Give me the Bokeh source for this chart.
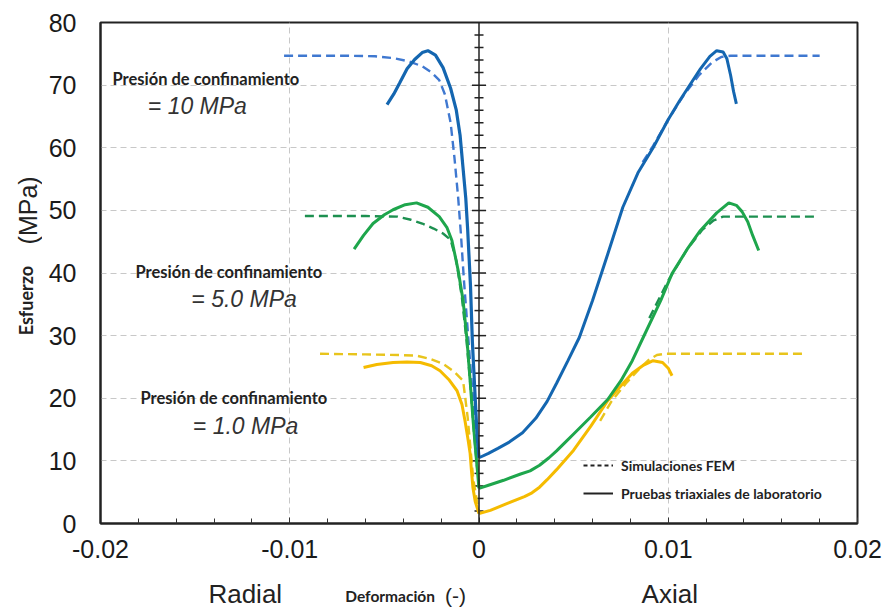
import math
from bokeh.plotting import figure
from bokeh.layouts import row, column
from bokeh.models import (Label, Span, FixedTicker, Legend, LegendItem, Range1d)
from bokeh.embed import file_html
from bokeh.resources import INLINE

# ---------------- data (strain, stress in MPa) ----------------
# 10 MPa confinement
blue_rad_lab_x = [-0.00486, -0.0045, -0.0042, -0.0038, -0.0034, -0.0030, -0.0027, -0.0023, -0.0019, -0.0015,
                  -0.0012, -0.0010, -0.00085, -0.0007, -0.0006, -0.00045, -0.00035, -0.0002, -0.0001, 0.0]
blue_rad_lab_y = [66.9, 68.6, 70.3, 72.6, 74.1, 75.2, 75.5, 74.8, 72.8, 69.5,
                  66.0, 62.0, 57.0, 52.0, 47.0, 38.0, 29.0, 20.0, 14.0, 10.5]
blue_rad_fem_x = [-0.0103, -0.0070, -0.0055, -0.0045, -0.0037, -0.0030, -0.0025, -0.0021, -0.0018, -0.0015,
                  -0.0013, -0.0011, -0.00095, -0.0008, -0.0006, -0.0004, -0.0002, 0.0]
blue_rad_fem_y = [74.7, 74.7, 74.6, 74.3, 73.8, 73.0, 72.0, 70.8, 68.5, 64.0,
                  58.5, 52.0, 46.0, 39.0, 31.0, 23.0, 16.0, 10.5]
blue_ax_lab_x = [0.0, 0.0005, 0.0010, 0.0016, 0.0023, 0.0030, 0.0036, 0.0041, 0.0047, 0.0053, 0.0060, 0.0068,
                 0.0076, 0.0084, 0.0092, 0.0100, 0.0106, 0.0112, 0.0117, 0.0122, 0.01256, 0.0129, 0.0131,
                 0.0133, 0.01345, 0.0136]
blue_ax_lab_y = [10.5, 11.2, 12.0, 13.0, 14.5, 16.8, 19.5, 22.4, 26.0, 29.7, 35.6, 43.0,
                 50.5, 56.0, 60.0, 64.5, 67.5, 70.3, 72.6, 74.6, 75.5, 75.3, 74.2,
                 71.5, 69.0, 67.0]
blue_ax_fem_x = [0.00865, 0.0092, 0.0100, 0.0108, 0.0116, 0.0123, 0.0128, 0.0133, 0.0180]
blue_ax_fem_y = [57.7, 60.3, 64.5, 68.3, 71.5, 73.6, 74.5, 74.7, 74.7]

# 5.0 MPa confinement
green_rad_lab_x = [-0.0066, -0.0061, -0.0056, -0.0050, -0.00454, -0.0039, -0.0033, -0.0027, -0.0021, -0.0017,
                   -0.00143, -0.0011, -0.00084, -0.00063, -0.00045, -0.0003, -0.00016, 0.0]
green_rad_lab_y = [43.8, 46.0, 47.9, 49.3, 50.1, 50.9, 51.2, 50.5, 49.0, 47.3,
                   45.2, 40.4, 35.6, 29.2, 22.0, 16.0, 11.0, 5.6]
green_rad_fem_x = [-0.0092, -0.0060, -0.0043, -0.0036, -0.0030, -0.0024, -0.0019, -0.0015, -0.0012, -0.0009,
                   -0.00065, -0.00045, -0.00025, 0.0]
green_rad_fem_y = [49.1, 49.1, 49.0, 48.5, 47.9, 47.1, 46.3, 45.3, 42.0, 36.0,
                   29.0, 22.0, 14.0, 5.6]
green_ax_lab_x = [0.0, 0.0005, 0.0013, 0.0022, 0.0027, 0.0032, 0.0037, 0.0041, 0.0045, 0.0050, 0.0059, 0.0068,
                  0.0075, 0.0081, 0.0088, 0.0096, 0.0102, 0.0110, 0.0117, 0.01256, 0.0132, 0.0136, 0.0139,
                  0.0142, 0.01446, 0.01478]
green_ax_lab_y = [5.6, 6.1, 6.9, 7.9, 8.4, 9.3, 10.5, 11.6, 12.8, 14.3, 17.0, 19.8,
                  22.8, 26.0, 30.5, 35.6, 39.9, 43.8, 46.8, 49.6, 51.2, 50.8, 49.8,
                  48.2, 46.0, 43.6]
green_ax_fem_x = [0.0090, 0.0100, 0.0110, 0.0118, 0.0124, 0.0129, 0.0179]
green_ax_fem_y = [32.8, 38.8, 43.8, 46.9, 48.4, 49.0, 49.0]

# 1.0 MPa confinement
yellow_rad_lab_x = [-0.0061, -0.0054, -0.00454, -0.0038, -0.0031, -0.0025, -0.00206, -0.0016, -0.00116, -0.0009,
                    -0.00074, -0.0006, -0.00047, -0.0004, -0.00032, -0.0002, 0.0]
yellow_rad_lab_y = [24.9, 25.4, 25.7, 25.8, 25.7, 25.2, 24.4, 23.0, 21.2, 19.0,
                    16.4, 13.8, 11.2, 8.5, 5.7, 3.5, 1.6]
yellow_rad_fem_x = [-0.0084, -0.0060, -0.0042, -0.0033, -0.0026, -0.0019, -0.0013, -0.00084, -0.0006, -0.00045,
                    -0.0003, 0.0]
yellow_rad_fem_y = [27.1, 27.0, 26.9, 26.8, 26.3, 25.5, 24.2, 22.8, 17.0, 12.0,
                    7.0, 1.6]
yellow_ax_lab_x = [0.0, 0.0006, 0.0015, 0.0024, 0.0028, 0.0032, 0.0036, 0.0041, 0.0050, 0.0059, 0.0068, 0.0075,
                   0.0081, 0.0087, 0.0092, 0.0097, 0.0100, 0.0102]
yellow_ax_lab_y = [1.6, 2.1, 3.2, 4.3, 4.9, 5.8, 7.0, 8.6, 11.7, 15.5, 19.6, 22.0,
                   24.0, 25.3, 26.0, 25.7, 24.8, 23.6]
yellow_ax_fem_x = [0.0064, 0.0070, 0.0078, 0.0085, 0.0090, 0.0094, 0.0098, 0.0173]
yellow_ax_fem_y = [16.4, 19.5, 22.5, 24.8, 26.2, 26.9, 27.1, 27.1]

x_ticks = [-0.02, -0.01, 0.0, 0.01, 0.02]
x_tick_labels = ["-0.02", "-0.01", "0", "0.01", "0.02"]
y_ticks = [0, 10, 20, 30, 40, 50, 60, 70, 80]
center_ticks = list(range(2, 80, 2))

FONT = "Liberation Sans"
BOLD_FONT = "Lato"
INK = "#222222"

x_range = Range1d(-0.02, 0.02)
y_range = Range1d(0, 80)

# ---------------- main figure ----------------
p = figure(width=847, height=570, x_range=x_range, y_range=y_range,
           output_backend="svg", toolbar_location=None,
           min_border_left=58, min_border_right=32, min_border_top=22, min_border_bottom=47)
p.background_fill_color = "white"
p.outline_line_color = INK
p.outline_line_width = 2

for ax in (p.xaxis[0], p.yaxis[0]):
    ax.axis_line_color = INK
    ax.axis_line_width = 2
    ax.major_label_text_font = FONT
    ax.major_label_text_font_size = "25px"
    ax.major_label_text_color = "#1a1a1a"
    ax.major_tick_out = 0
    ax.minor_tick_out = 0

p.xaxis.ticker = FixedTicker(ticks=x_ticks, minor_ticks=[i / 1000 for i in range(-18, 19, 2)])
p.xaxis.major_label_overrides = {t: l for t, l in zip(x_ticks, x_tick_labels)}
p.xaxis.major_tick_in = 6
p.xaxis.minor_tick_in = 5
p.xaxis.major_tick_line_color = "#333333"
p.xaxis.minor_tick_line_color = "#333333"
p.xaxis.major_label_standoff = 16

p.yaxis.ticker = FixedTicker(ticks=y_ticks)
p.yaxis.major_tick_in = 0
p.yaxis.minor_tick_in = 0
p.yaxis.major_label_standoff = 24

p.xgrid.ticker = FixedTicker(ticks=[-0.01, 0.01])
p.ygrid.ticker = FixedTicker(ticks=[10, 20, 30, 40, 50, 60, 70])
for g in (p.xgrid[0], p.ygrid[0]):
    g.grid_line_color = "#c8c8c8"
    g.grid_line_dash = "6 4"
    g.grid_line_width = 1

# central axis at zero strain
p.add_layout(Span(location=0, dimension="height", line_color=INK, line_width=1.5))
small = [t for t in center_ticks if t % 10 != 0]
big = [t for t in center_ticks if t % 10 == 0]
p.scatter(x=[0] * len(small), y=small, marker="dash", size=9, line_color=INK, line_width=1.5)
p.scatter(x=[0] * len(big), y=big, marker="dash", size=14, line_color=INK, line_width=1.5)

BLUE, BLUE_F = "#1466b0", "#3f78d0"
GREEN, GREEN_F = "#1ea64c", "#1d9050"
YELLOW, YELLOW_F = "#f5bb00", "#e8c41c"
DASH = "9 5"

p.line(blue_rad_fem_x, blue_rad_fem_y, color=BLUE_F, line_width=2.4, line_dash=DASH)
p.line(blue_ax_fem_x, blue_ax_fem_y, color=BLUE_F, line_width=2.4, line_dash=DASH)
p.line(green_rad_fem_x, green_rad_fem_y, color=GREEN_F, line_width=2.4, line_dash=DASH)
p.line(green_ax_fem_x, green_ax_fem_y, color=GREEN_F, line_width=2.4, line_dash=DASH)
p.line(yellow_rad_fem_x, yellow_rad_fem_y, color=YELLOW_F, line_width=2.4, line_dash=DASH)
p.line(yellow_ax_fem_x, yellow_ax_fem_y, color=YELLOW_F, line_width=2.4, line_dash=DASH)

p.line(yellow_rad_lab_x, yellow_rad_lab_y, color=YELLOW, line_width=3)
p.line(yellow_ax_lab_x, yellow_ax_lab_y, color=YELLOW, line_width=3)
p.line(green_rad_lab_x, green_rad_lab_y, color=GREEN, line_width=3)
p.line(green_ax_lab_x, green_ax_lab_y, color=GREEN, line_width=3)
p.line(blue_rad_lab_x, blue_rad_lab_y, color=BLUE, line_width=3.2)
p.line(blue_ax_lab_x, blue_ax_lab_y, color=BLUE, line_width=3)

# legend keys (black), no visible data
nan = float("nan")
r_fem = p.line(x=[nan], y=[nan], color=INK, line_width=2, line_dash="4 3")
r_lab = p.line(x=[nan], y=[nan], color=INK, line_width=2)
legend = Legend(items=[LegendItem(label="Simulaciones FEM", renderers=[r_fem]),
                       LegendItem(label="Pruebas triaxiales de laboratorio", renderers=[r_lab])],
                location=(483, 20), orientation="vertical",
                glyph_width=30, glyph_height=20, label_height=20, label_standoff=8, spacing=8,
                padding=0, margin=0, border_line_alpha=0, background_fill_alpha=0,
                label_text_font=BOLD_FONT, label_text_font_style="bold",
                label_text_font_size="14px", label_text_color=INK)
p.add_layout(legend)


def txt(fig, x, y, s, size, bold=False, italic=False, font=FONT, align="left", xo=0, yo=0, angle=0.0,
        color=INK):
    style = "bold" if bold else ("italic" if italic else "normal")
    fig.add_layout(Label(x=x, y=y, text=s, text_font=font, text_font_size=size, text_font_style=style,
                         text_align=align, text_baseline="middle", x_offset=xo, y_offset=yo,
                         angle=angle, text_color=color))


txt(p, -0.01937, 70.9, "Presión de confinamiento", "16.5px", bold=True, font=BOLD_FONT)
txt(p, -0.01750, 66.6, "= 10 MPa", "23px", italic=True, color="#333333")
txt(p, -0.01815, 40.1, "Presión de confinamiento", "16.5px", bold=True, font=BOLD_FONT)
txt(p, -0.01520, 35.9, "= 5.0 MPa", "23px", italic=True, color="#333333")
txt(p, -0.01789, 20.1, "Presión de confinamiento", "16.5px", bold=True, font=BOLD_FONT)
txt(p, -0.01512, 15.6, "= 1.0 MPa", "23px", italic=True, color="#333333")

# ---------------- bottom strip: x titles ----------------
b = figure(width=847, height=39, x_range=x_range, y_range=Range1d(0, 39),
           output_backend="svg", toolbar_location=None, x_axis_location=None, y_axis_location=None,
           min_border_left=58, min_border_right=32, min_border_top=0, min_border_bottom=0)
b.outline_line_color = None
b.xgrid.visible = False
b.ygrid.visible = False
txt(b, -0.01235, 16, "Radial", "26px", align="center")
txt(b, 0.01008, 16, "Axial", "26px", align="center")
txt(b, -0.00707, 14, "Deformación", "15.5px", bold=True, font=BOLD_FONT)
txt(b, -0.00180, 14, "(-)", "21px")

# ---------------- left strip: y title ----------------
l = figure(width=42, height=609, x_range=Range1d(0, 42), y_range=y_range,
           output_backend="svg", toolbar_location=None, x_axis_location=None, y_axis_location=None,
           min_border_left=0, min_border_right=0, min_border_top=22, min_border_bottom=86)
l.outline_line_color = None
l.xgrid.visible = False
l.ygrid.visible = False
txt(l, 25, 35.6, "Esfuerzo", "18px", bold=True, font=BOLD_FONT, align="center", angle=math.pi / 2)
txt(l, 27, 50.0, "(MPa)", "25px", align="center", angle=math.pi / 2)

layout = row(l, column(p, b, spacing=0), spacing=0)

open("out.html", "w").write(file_html(layout, INLINE))
